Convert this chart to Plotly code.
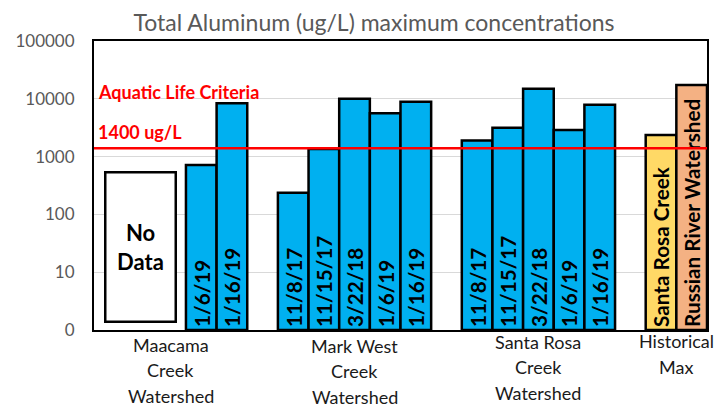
import plotly.graph_objects as go

# ---------------- data ----------------
group_names = ["Maacama Creek Watershed", "Mark West Creek Watershed",
               "Santa Rosa Creek Watershed", "Historical Max"]
group_label_lines = [["Maacama", "Creek", "Watershed"],
                     ["Mark West", "Creek", "Watershed"],
                     ["Santa Rosa", "Creek", "Watershed"],
                     ["Historical", "Max"]]
group_empty_slots = [3, 0, 0, 0]   # Maacama: no-data slots before its bars

maacama_dates = ["1/6/19", "1/16/19"]
maacama_values = [716, 8360]

markwest_dates = ["11/8/17", "11/15/17", "3/22/18", "1/6/19", "1/16/19"]
markwest_values = [237, 1350, 10000, 5610, 8910]

santarosa_dates = ["11/8/17", "11/15/17", "3/22/18", "1/6/19", "1/16/19"]
santarosa_values = [1900, 3160, 14960, 2885, 7910]

historical_labels = ["Santa Rosa Creek", "Russian River Watershed"]
historical_values = [2365, 17330]

criteria_value = 1400
criteria_labels = ["Aquatic Life Criteria", "1400 ug/L"]
no_data_text = "No<br>Data"

ytick_vals = [1, 10, 100, 1000, 10000, 100000]
ytick_text = ["0", "10", "100", "1000", "10000", "100000"]

title_text = "Total Aluminum (ug/L) maximum concentrations"

# ---------------- layout of slots ----------------
group_labels = [maacama_dates, markwest_dates, santarosa_dates, historical_labels]
group_values = [maacama_values, markwest_values, santarosa_values, historical_values]
group_colors = ["#00B0F0", "#00B0F0", "#00B0F0", ["#FFD966", "#F4B183"]]

xs, ys, texts, colors = [], [], [], []
group_centers = []
slot = 0
for gi, (labs, vals) in enumerate(zip(group_labels, group_values)):
    start = slot
    slot += group_empty_slots[gi]
    for i, (lab, v) in enumerate(zip(labs, vals)):
        xs.append(slot)
        ys.append(v)
        texts.append(lab)
        c = group_colors[gi]
        colors.append(c[i] if isinstance(c, list) else c)
        slot += 1
    group_centers.append((start + slot - 1) / 2)
    slot += 1  # gap slot
n_slots = slot - 1

FONT = "Lato, 'Open Sans', sans-serif"

fig = go.Figure()
fig.add_trace(go.Bar(
    x=xs, y=ys, base=1, width=1,
    marker=dict(color=colors, line=dict(color="black", width=2.5)),
    text=texts, textposition="inside", insidetextanchor="start",
    textangle=-90,
    textfont=dict(family=FONT, size=21, color="black", weight="bold"),
    hoverinfo="skip", showlegend=False,
))
fig.add_trace(go.Scatter(
    x=[-0.5, n_slots - 0.5], y=[criteria_value, criteria_value],
    mode="lines", line=dict(color="#FF0000", width=2.5),
    hoverinfo="skip", showlegend=False, cliponaxis=False,
))

PLOT_H = 289.0
def py(pix):  # pixel row -> paper y
    return (330 - pix) / PLOT_H

annotations = []
# criteria labels
for txt, pix in zip(criteria_labels, [91.7, 131.7]):
    annotations.append(dict(
        text=txt, xref="paper", yref="paper", x=0.003, y=py(pix),
        xanchor="left", yanchor="middle", showarrow=False,
        font=dict(family=FONT, size=18, color="#FF0000", weight="bold")))
# no data box
annotations.append(dict(
    text=no_data_text, xref="paper", yref="paper",
    x=(140.5 - 94) / 613, y=py(247), xanchor="center", yanchor="middle",
    showarrow=False, width=68, height=147, borderpad=0, borderwidth=2.5,
    bordercolor="black", bgcolor="white",
    font=dict(family=FONT, size=22, color="black", weight="bold")))
# group labels
first_line_pix = [344.5, 345.5, 341.7, 341]
for gc, lines, p0 in zip(group_centers, group_label_lines, first_line_pix):
    for k, line in enumerate(lines):
        annotations.append(dict(
            text=line, xref="x", yref="paper", x=gc, y=py(p0 + 25.8 * k),
            xanchor="center", yanchor="middle", showarrow=False,
            font=dict(family=FONT, size=18, color="#1a1a1a")))

fig.update_layout(
    width=725, height=404,
    margin=dict(l=94, r=18, t=41, b=74),
    paper_bgcolor="white", plot_bgcolor="white",
    title=dict(text=title_text, x=374 / 725, xanchor="center",
               y=1 - 23 / 404, yanchor="middle",
               font=dict(family=FONT, size=23, color="#595959")),
    xaxis=dict(range=[-0.5, n_slots - 0.5], showticklabels=False,
               showgrid=False, zeroline=False, showline=True, mirror=True,
               linecolor="black", linewidth=2, ticks=""),
    yaxis=dict(type="log", range=[0, 5], tickvals=ytick_vals,
               ticktext=ytick_text, showgrid=True, gridcolor="#D9D9D9",
               gridwidth=1, zeroline=False, showline=True, mirror=True,
               linecolor="black", linewidth=2, ticks="",
               ticklabelstandoff=14,
               tickfont=dict(family=FONT, size=17, color="#595959")),
    bargap=0,
    annotations=annotations,
)

fig.write_html("out.html",
               config={"displayModeBar": False, "staticPlot": True},
               post_script="document.body.style.margin='0';"
                           "document.body.style.overflow='hidden';")
